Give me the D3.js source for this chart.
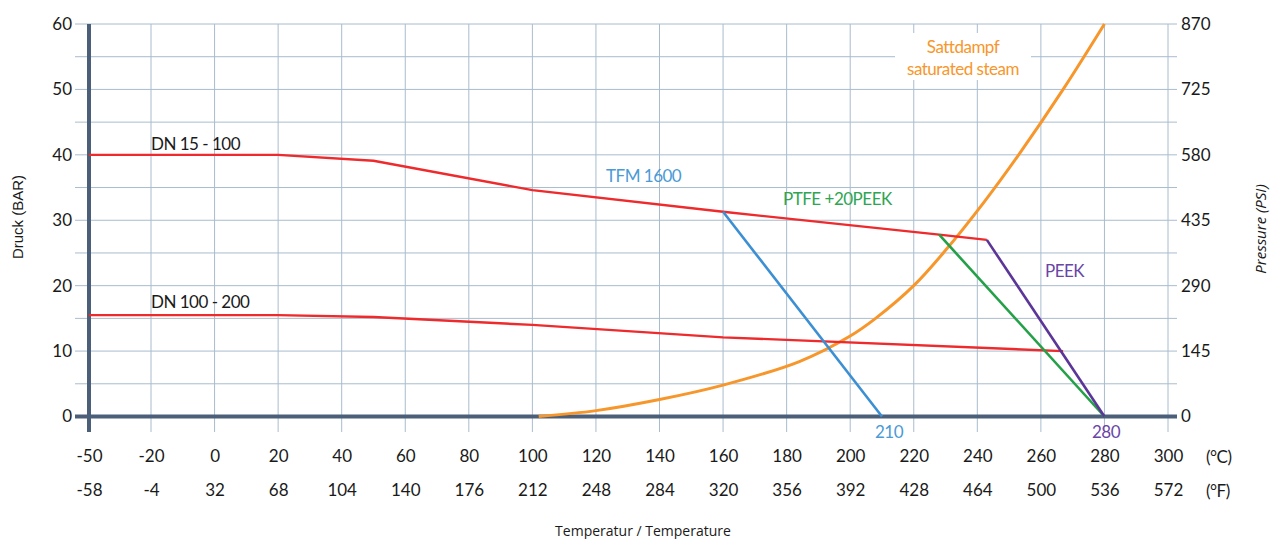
<!DOCTYPE html>
<html>
<head>
<meta charset="utf-8">
<script src="https://cdn.jsdelivr.net/npm/d3@7"></script>
<style>
  body { margin: 0; background: #fff; }
  text { font-family: Lato, "Open Sans", sans-serif; }
</style>
</head>
<body>
<div id="chart"></div>
<script>
// tick values (°C) and their labels
const celsiusTicks = [-50, -20, 0, 20, 40, 60, 80, 100, 120, 140, 160, 180, 200, 220, 240, 260, 280, 300];
const fahrenheitLabels = ["-58", "-4", "32", "68", "104", "140", "176", "212", "248", "284", "320", "356", "392", "428", "464", "500", "536", "572"];
const barTicks = [0, 10, 20, 30, 40, 50, 60];
const psiTicks = [0, 145, 290, 435, 580, 725, 870];

// series: [°C, bar]
const dn15_100 = [[-50, 40], [20, 40], [50, 39.1], [100, 34.6], [160, 31.3], [228, 27.8], [243, 27.0]];
const dn100_200 = [[-50, 15.5], [20, 15.5], [50, 15.2], [100, 14.0], [160, 12.1], [267, 10.0]];
const tfm1600 = [[160, 31.3], [210, 0]];
const ptfePeek = [[228, 27.8], [280, 0]];
const peek = [[243, 27.0], [280, 0]];
const steam = [[102, 0], [120, 0.9], [140, 2.6], [160, 4.8], [184, 8.4], [200, 12.3], [208, 15.0],
  [220, 20.0], [230, 25.4], [242, 32.7], [253, 40], [267, 50], [280, 60]];

const width = 1278, height = 539;
const gridColor = "#a9bccd", axisColor = "#4b6078";

const svg = d3.select("#chart").append("svg")
  .attr("width", width)
  .attr("height", height);

// the first step (-50 .. -20) is drawn as wide as a 20° step
const x = d3.scaleLinear().domain([-50, -20, 300]).range([89, 151, 1168]);
const y = d3.scaleLinear().domain([0, 60]).range([416.5, 24]);
const yPsi = d3.scaleLinear().domain([0, 870]).range([416.5, 24]);

// grid
svg.append("g")
  .selectAll("line")
  .data(d3.range(0, 61, 5))
  .join("line")
  .attr("x1", 75).attr("x2", 1177)
  .attr("y1", d => y(d)).attr("y2", d => y(d))
  .attr("stroke", gridColor).attr("stroke-width", 1);

svg.append("g")
  .selectAll("line")
  .data(celsiusTicks.slice(1))
  .join("line")
  .attr("x1", d => x(d)).attr("x2", d => x(d))
  .attr("y1", y(60)).attr("y2", 432)
  .attr("stroke", gridColor).attr("stroke-width", 1);

// steam label box (covers grid)
svg.append("rect")
  .attr("x", 895).attr("y", 33).attr("width", 136).attr("height", 47)
  .attr("fill", "#fff");

// main axes lines
svg.append("line")
  .attr("x1", 75).attr("x2", 1177).attr("y1", y(0)).attr("y2", y(0))
  .attr("stroke", axisColor).attr("stroke-width", 4);
svg.append("line")
  .attr("x1", x(-50)).attr("x2", x(-50)).attr("y1", y(60)).attr("y2", 432)
  .attr("stroke", axisColor).attr("stroke-width", 4);

// tick labels via axes
function styleAxis(g) {
  g.select(".domain").remove();
  g.selectAll(".tick line").remove();
  g.selectAll("text")
    .attr("font-family", "Lato, sans-serif")
    .attr("font-size", 17)
    .attr("fill", "#1a1a1a");
}

svg.append("g")
  .attr("transform", "translate(0,447)")
  .call(d3.axisBottom(x).tickValues(celsiusTicks).tickSize(0).tickFormat(d => String(d)))
  .call(styleAxis);

svg.append("g")
  .attr("transform", "translate(0,481)")
  .call(d3.axisBottom(x).tickValues(celsiusTicks).tickSize(0)
    .tickFormat((d, i) => fahrenheitLabels[i]))
  .call(styleAxis);

svg.append("g")
  .attr("transform", "translate(72,0)")
  .call(d3.axisLeft(y).tickValues(barTicks).tickSize(0).tickPadding(0))
  .call(styleAxis);

svg.append("g")
  .attr("transform", "translate(1181,0)")
  .call(d3.axisRight(yPsi).tickValues(psiTicks).tickSize(0).tickPadding(0))
  .call(styleAxis);

// series
const line = d3.line().x(d => x(d[0])).y(d => y(d[1]));
const smooth = d3.line().x(d => x(d[0])).y(d => y(d[1])).curve(d3.curveCatmullRom.alpha(0.5));

const series = [
  { data: steam, color: "#f7962b", w: 3, gen: smooth },
  { data: dn15_100, color: "#ee2a2c", w: 2.4, gen: line },
  { data: dn100_200, color: "#ee2a2c", w: 2.4, gen: line },
  { data: tfm1600, color: "#3b8fd2", w: 2.6, gen: line },
  { data: ptfePeek, color: "#23a048", w: 2.6, gen: line },
  { data: peek, color: "#5b3597", w: 2.6, gen: line }
];

svg.append("g")
  .selectAll("path")
  .data(series)
  .join("path")
  .attr("d", d => d.gen(d.data))
  .attr("fill", "none")
  .attr("stroke", d => d.color)
  .attr("stroke-width", d => d.w)
  .attr("stroke-linejoin", "round");

// labels
const labels = [
  { t: "DN 15 - 100", x: 151, y: 150, c: "#1a1a1a", a: "start" },
  { t: "DN 100 - 200", x: 151, y: 308, c: "#1a1a1a", a: "start" },
  { t: "TFM 1600", x: 606, y: 182, c: "#4a9ad6", a: "start" },
  { t: "PTFE +20PEEK", x: 783, y: 205, c: "#2fa552", a: "start" },
  { t: "PEEK", x: 1045, y: 277, c: "#6a45a8", a: "start" },
  { t: "Sattdampf", x: 963, y: 53, c: "#f7962b", a: "middle" },
  { t: "saturated steam", x: 963, y: 75, c: "#f7962b", a: "middle" },
  { t: "210", x: 889, y: 438, c: "#4a9ad6", a: "middle" },
  { t: "280", x: 1106, y: 438, c: "#6a45a8", a: "middle" },
  { t: "(°C)", x: 1206, y: 463, c: "#1a1a1a", a: "start" },
  { t: "(°F)", x: 1206, y: 497, c: "#1a1a1a", a: "start" }
];

svg.append("g")
  .selectAll("text")
  .data(labels)
  .join("text")
  .attr("x", d => d.x)
  .attr("y", d => d.y)
  .attr("fill", d => d.c)
  .attr("text-anchor", d => d.a)
  .attr("font-size", 17)
  .attr("letter-spacing", -0.5)
  .text(d => d.t);

// axis titles
svg.append("text")
  .attr("transform", "translate(23,217) rotate(-90)")
  .attr("text-anchor", "middle")
  .style("font-family", "'Liberation Sans', Arial, sans-serif")
  .attr("font-size", 15)
  .attr("fill", "#1a1a1a")
  .text("Druck (BAR)");

svg.append("text")
  .attr("transform", "translate(1266,229) rotate(-90)")
  .attr("text-anchor", "middle")
  .style("font-family", "'Open Sans', sans-serif")
  .attr("font-style", "italic")
  .attr("font-size", 15)
  .attr("fill", "#1a1a1a")
  .text("Pressure (PSI)");

svg.append("text")
  .attr("x", 643).attr("y", 536)
  .attr("text-anchor", "middle")
  .style("font-family", "'Open Sans', sans-serif")
  .attr("font-size", 14)
  .attr("fill", "#1a1a1a")
  .text("Temperatur / Temperature");
</script>
</body>
</html>
